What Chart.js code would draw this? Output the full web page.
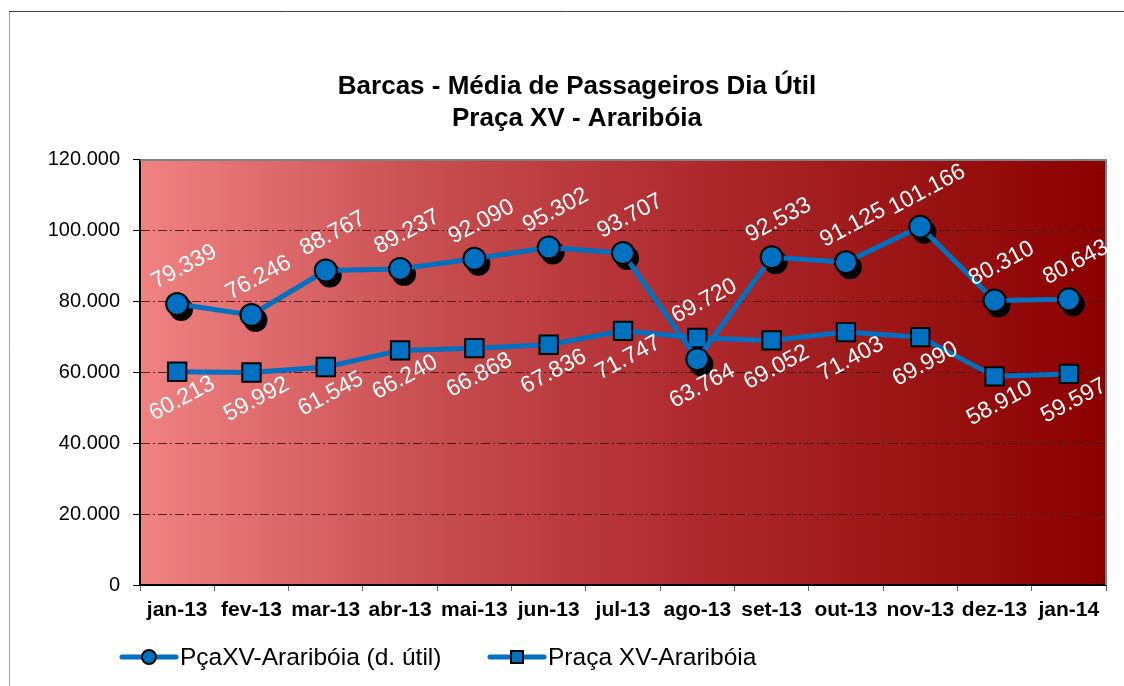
<!DOCTYPE html>
<html>
<head>
<meta charset="utf-8">
<title>Barcas - Média de Passageiros Dia Útil</title>
<script src="https://cdn.jsdelivr.net/npm/chart.js@4.4.0/dist/chart.umd.min.js"></script>
<style>
	body { margin: 0; background: #ffffff; }
	canvas { display: block; }
</style>
</head>
<body>
<canvas id="barcas" width="1124" height="686"></canvas>
<script>

	/* Data */

	var months = ['jan-13', 'fev-13', 'mar-13', 'abr-13', 'mai-13', 'jun-13', 'jul-13',
		'ago-13', 'set-13', 'out-13', 'nov-13', 'dez-13', 'jan-14'];

	var pracaDiaUtil = [79339, 76246, 88767, 89237, 92090, 95302, 93707,
		63764, 92533, 91125, 101166, 80310, 80643];

	var pracaXV = [60213, 59992, 61545, 66240, 66868, 67836, 71747,
		69720, 69052, 71403, 69990, 58910, 59597];

	var seriesNames = ['PçaXV-Araribóia (d. útil)', 'Praça XV-Araribóia'];

	var titleLines = ['Barcas - Média de Passageiros Dia Útil', 'Praça XV - Araribóia'];


	var FONT = "'Liberation Sans', Arial, Helvetica, sans-serif";
	var BLUE = '#0070C0';

	function formatBR(v) {
		return String(v).replace(/\B(?=(\d{3})+(?!\d))/g, '.');
	}


	/* Background, outer frame and gradient plot area */

	var backgroundPlugin = {
		id: 'background',
		beforeDraw: function(chart) {
			var ctx = chart.ctx;
			var a = chart.chartArea;
			ctx.save();
			ctx.fillStyle = '#ffffff';
			ctx.fillRect(0, 0, chart.width, chart.height);

			ctx.lineWidth = 1;
			ctx.strokeStyle = '#a6a6a6';
			ctx.beginPath();
			ctx.moveTo(9.5, 11);
			ctx.lineTo(9.5, chart.height);
			ctx.stroke();
			ctx.strokeStyle = '#404040';
			ctx.beginPath();
			ctx.moveTo(9, 11.5);
			ctx.lineTo(chart.width, 11.5);
			ctx.stroke();

			var grad = ctx.createLinearGradient(a.left, 0, a.right, 0);
			grad.addColorStop(0, '#F08282');
			grad.addColorStop(0.3, '#C84E50');
			grad.addColorStop(0.55, '#B02C30');
			grad.addColorStop(0.8, '#9A1414');
			grad.addColorStop(1, '#8C0000');
			ctx.fillStyle = grad;
			ctx.fillRect(a.left, a.top, a.right - a.left, a.bottom - a.top);
			ctx.restore();
		}
	};

	/* Grey border on top and right of the plot area */

	var plotBorderPlugin = {
		id: 'plotBorder',
		beforeDatasetsDraw: function(chart) {
			var ctx = chart.ctx;
			var a = chart.chartArea;
			ctx.save();
			ctx.strokeStyle = '#808080';
			ctx.lineWidth = 2;
			ctx.beginPath();
			ctx.moveTo(a.left, a.top);
			ctx.lineTo(a.right, a.top);
			ctx.lineTo(a.right, a.bottom);
			ctx.stroke();
			ctx.restore();
		}
	};

	/* Black shadow under the round markers */

	var shadowPlugin = {
		id: 'markerShadow',
		beforeDatasetDraw: function(chart, args) {
			if (args.index !== 0) return;
			var ctx = chart.ctx;
			ctx.save();
			ctx.fillStyle = '#000000';
			args.meta.data.forEach(function(pt) {
				ctx.beginPath();
				ctx.arc(pt.x + 4, pt.y + 5, 12, 0, Math.PI * 2);
				ctx.fill();
			});
			ctx.restore();
		}
	};

	/* Rotated white value labels */

	var valueLabelPlugin = {
		id: 'valueLabels',
		afterDatasetsDraw: function(chart) {
			var ctx = chart.ctx;
			var sets = chart.data.datasets;
			ctx.save();
			ctx.fillStyle = '#ffffff';
			ctx.font = '23px ' + FONT;
			ctx.textAlign = 'center';
			ctx.textBaseline = 'middle';
			sets.forEach(function(ds, di) {
				var meta = chart.getDatasetMeta(di);
				var other = sets[1 - di].data;
				meta.data.forEach(function(pt, i) {
					var above = ds.data[i] > other[i];
					var dx = above ? 7 : 5;
					var dy = above ? -37 : 27;
					ctx.save();
					ctx.translate(pt.x + dx, pt.y + dy);
					ctx.rotate(-28 * Math.PI / 180);
					ctx.fillText(formatBR(ds.data[i]), 0, 0);
					ctx.restore();
				});
			});
			ctx.restore();
		}
	};

	/* Legend: line with marker, drawn below the axis */

	var legendPlugin = {
		id: 'lineLegend',
		afterDraw: function(chart) {
			var ctx = chart.ctx;
			var y = 657;
			var starts = [120, 488];
			ctx.save();
			chart.data.datasets.forEach(function(ds, di) {
				var x = starts[di];
				ctx.strokeStyle = ds.borderColor;
				ctx.lineWidth = 5;
				ctx.lineCap = 'round';
				ctx.beginPath();
				ctx.moveTo(x + 2, y);
				ctx.lineTo(x + 56, y);
				ctx.stroke();

				ctx.fillStyle = ds.pointBackgroundColor;
				ctx.strokeStyle = '#000000';
				ctx.lineWidth = 2;
				ctx.beginPath();
				if (ds.pointStyle === 'circle') {
					ctx.arc(x + 29, y, 7, 0, Math.PI * 2);
				} else {
					ctx.rect(x + 23, y - 6, 12, 12);
				}
				ctx.fill();
				ctx.stroke();

				ctx.fillStyle = '#000000';
				ctx.font = '24.5px ' + FONT;
				ctx.textAlign = 'left';
				ctx.textBaseline = 'middle';
				ctx.fillText(ds.label, x + 60, y + 1);
			});
			ctx.restore();
		}
	};


	/* Chart */

	var ctx = document.getElementById('barcas');

	var barcasChart = new Chart(ctx, {
		type: 'line',
		data: {
			labels: months,
			datasets: [{
				label: seriesNames[0],
				data: pracaDiaUtil,
				borderColor: BLUE,
				borderWidth: 5,
				pointStyle: 'circle',
				pointRadius: 11,
				pointBorderWidth: 2,
				pointBorderColor: '#000000',
				pointBackgroundColor: BLUE,
				tension: 0
			}, {
				label: seriesNames[1],
				data: pracaXV,
				borderColor: BLUE,
				borderWidth: 5,
				pointStyle: 'rect',
				pointRadius: 13,
				pointBorderWidth: 2,
				pointBorderColor: '#000000',
				pointBackgroundColor: BLUE,
				tension: 0
			}]
		},
		options: {
			responsive: false,
			animation: false,
			devicePixelRatio: 1,
			layout: {
				padding: { left: 48, right: 18, top: 0, bottom: 51 }
			},
			plugins: {
				legend: { display: false },
				tooltip: { enabled: false },
				title: {
					display: true,
					text: titleLines,
					color: '#000000',
					font: { family: FONT, size: 26, weight: 'bold', lineHeight: 1.23 },
					padding: { top: 71, bottom: 25 }
				}
			},
			scales: {
				x: {
					offset: true,
					afterFit: function(scale) { scale.height = 50; },
					grid: {
						offset: true,
						drawOnChartArea: false,
						drawTicks: true,
						tickLength: 6,
						tickColor: '#666666',
						tickBorderDash: []
					},
					border: { display: true, color: '#000000', width: 2 },
					ticks: {
						color: '#000000',
						padding: 7,
						maxRotation: 0,
						autoSkip: false,
						font: { family: FONT, size: 21, weight: 'bold' }
					}
				},
				y: {
					min: 0,
					max: 120000,
					afterFit: function(scale) { scale.width = 92; },
					grid: {
						color: 'rgba(45, 0, 0, 0.75)',
						lineWidth: 1,
						tickLength: 7,
						tickColor: '#000000',
						tickBorderDash: []
					},
					border: { display: true, color: '#000000', width: 2, dash: [9, 3, 2, 3] },
					ticks: {
						stepSize: 20000,
						color: '#000000',
						padding: 13,
						font: { family: FONT, size: 20 },
						callback: function(value) { return formatBR(value); }
					}
				}
			}
		},
		plugins: [backgroundPlugin, plotBorderPlugin, shadowPlugin, valueLabelPlugin, legendPlugin]
	});

</script>
</body>
</html>
